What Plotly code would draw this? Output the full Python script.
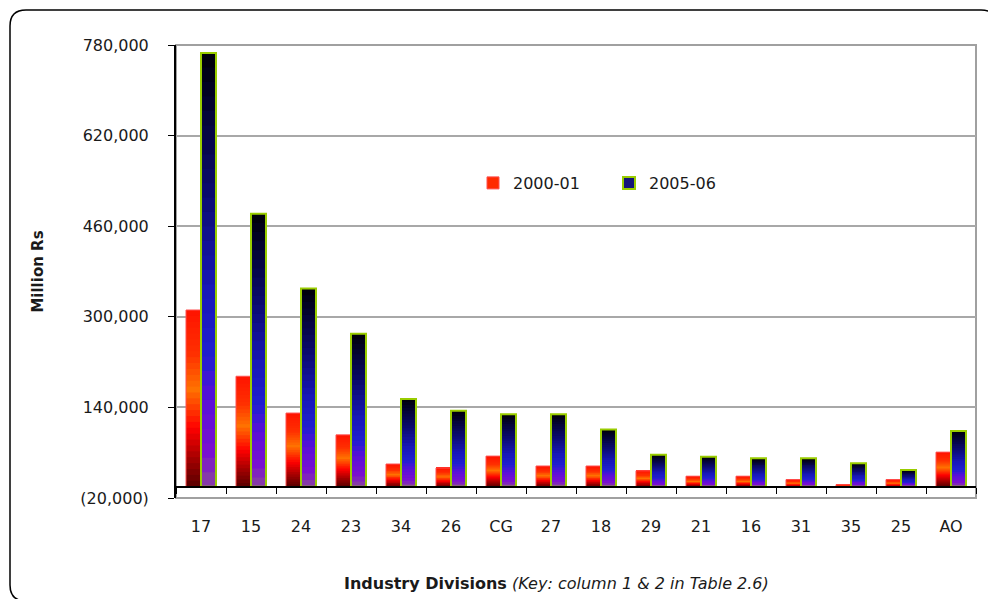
import plotly.graph_objects as go

# ---------------- data ----------------
categories = ["17", "15", "24", "23", "34", "26", "CG", "27", "18", "29", "21", "16", "31", "35", "25", "AO"]
values_2000_01 = [312000, 195000, 130000, 91500, 40000, 33000, 54000, 36500, 36500, 28000, 18500, 18500, 12500, 3500, 12500, 61000]
values_2005_06 = [766000, 482000, 350000, 270000, 155000, 134000, 128000, 128000, 101000, 56500, 53000, 50000, 50000, 41500, 29500, 98500]
series_names = ["2000-01", "2005-06"]
y_tickvals = [-20000, 140000, 300000, 460000, 620000, 780000]
y_ticktext = ["(20,000)", "140,000", "300,000", "460,000", "620,000", "780,000"]
x_title = "<b>Industry Divisions</b> <i>(Key: column 1 &amp; 2 in Table 2.6)</i>"
y_title = "<b>Million Rs</b>"

# ---------------- style ----------------
FONT = "DejaVu Sans"
W, H = 988, 599
ML, MR, MT, MB = 176, 12, 45, 101
PW, PH = W - ML - MR, H - MT - MB

red_stops = [(0.0, "#5a0000"), (0.15, "#a00000"), (0.33, "#ff0000"), (0.55, "#ff7200"),
             (0.75, "#ff3000"), (1.0, "#ff1400")]
blue_stops = [(0.0, "#8a45a0"), (0.08, "#7a10d0"), (0.2, "#5a10d8"), (0.3, "#2020d0"),
              (0.45, "#1818b8"), (0.65, "#0c0c78"), (0.85, "#04043a"), (1.0, "#000008")]


def hex2rgb(h):
    h = h.lstrip("#")
    return tuple(int(h[i:i + 2], 16) for i in (0, 2, 4))


def interp(stops, t):
    for (t0, c0), (t1, c1) in zip(stops[:-1], stops[1:]):
        if t0 <= t <= t1:
            a = (t - t0) / (t1 - t0) if t1 > t0 else 0
            r0, g0, b0 = hex2rgb(c0)
            r1, g1, b1 = hex2rgb(c1)
            return "rgb(%d,%d,%d)" % (r0 + (r1 - r0) * a, g0 + (g1 - g0) * a, b0 + (b1 - b0) * a)
    return stops[-1][1]


NSEG = 30
fig = go.Figure()


def add_series(name, vals, stops, group, outline_color, outline_w, legend_fill):
    frac = 1.0 / NSEG
    for k in range(NSEG):
        ext = 1.0 if k == NSEG - 1 else 1.8  # overlap into next segment to hide seams
        fig.add_trace(go.Bar(
            x=categories, y=[v * frac * ext for v in vals], base=[v * k * frac for v in vals],
            offsetgroup=group, showlegend=False, hoverinfo="skip",
            marker=dict(color=interp(stops, (k + 0.5) / NSEG), line=dict(width=0)),
        ))
    # outline
    fig.add_trace(go.Bar(
        x=categories, y=vals, offsetgroup=group, showlegend=False, name=name,
        marker=dict(color="rgba(0,0,0,0)", line=dict(color=outline_color, width=outline_w)),
    ))
    # legend entry
    fig.add_trace(go.Bar(
        x=[None], y=[None], offsetgroup=group, name=name, showlegend=True,
        marker=dict(color=legend_fill, line=dict(color=outline_color, width=outline_w)),
    ))


add_series(series_names[0], values_2000_01, red_stops, "a", "#ff5050", 1, "#ff2a00")
add_series(series_names[1], values_2005_06, blue_stops, "b", "#99cc00", 2, "#14147a")


def px_x(px):
    return (px - ML) / PW


def px_y(py):
    return (MT + PH - py) / PH


# outer rounded border
L, R, T, B = px_x(10), px_x(997), px_y(10), px_y(601)
rx, ry = 16 / PW, 16 / PH
path = (f"M {L + rx},{T} L {R - rx},{T} Q {R},{T} {R},{T - ry} L {R},{B + ry} "
        f"Q {R},{B} {R - rx},{B} L {L + rx},{B} Q {L},{B} {L},{B + ry} L {L},{T - ry} Q {L},{T} {L + rx},{T} Z")

ymin, ymax = -20000, 780000
zero_pos = (0 - ymin) / (ymax - ymin)

fig.update_layout(
    width=W, height=H,
    margin=dict(l=ML, r=MR, t=MT, b=MB),
    paper_bgcolor="white", plot_bgcolor="white",
    barmode="group", bargap=0.4, bargroupgap=0.0,
    font=dict(family=FONT, size=16, color="#1a1a1a"),
    showlegend=True,
    legend=dict(orientation="h", x=px_x(473), y=px_y(183), xanchor="left", yanchor="middle",
                font=dict(family=FONT, size=16, color="#1a1a1a"), bgcolor="rgba(0,0,0,0)",
                entrywidth=91, entrywidthmode="pixels", traceorder="normal"),
    shapes=[
        dict(type="rect", xref="paper", yref="paper", x0=0, x1=1, y0=0, y1=1,
             line=dict(color="#a0a0a0", width=2), layer="below"),
        dict(type="path", xref="paper", yref="paper", path=path,
             line=dict(color="black", width=1.5), layer="above"),
    ],
    annotations=[
        dict(text=x_title, xref="paper", yref="paper", x=px_x(556), y=px_y(583),
             xanchor="center", yanchor="middle", showarrow=False,
             font=dict(family=FONT, size=16, color="#1a1a1a")),
    ],
    xaxis=dict(
        type="category", anchor="free", position=zero_pos,
        showline=True, linecolor="black", linewidth=2,
        ticks="outside", tickson="boundaries", ticklen=6, tickcolor="black", tickwidth=1,
        showgrid=False, ticklabelstandoff=25,
        tickfont=dict(family=FONT, size=16, color="#1a1a1a"),
    ),
    yaxis=dict(
        range=[ymin, ymax], tickvals=y_tickvals, ticktext=y_ticktext,
        showline=True, linecolor="black", linewidth=2,
        ticks="outside", ticklen=6, tickcolor="black",
        showgrid=True, gridcolor="#a8a8a8", gridwidth=1.5, zeroline=False,
        ticklabelstandoff=16,
        tickfont=dict(family=FONT, size=16, color="#1a1a1a"),
        title=dict(text=y_title, font=dict(family=FONT, size=15, color="#1a1a1a"), standoff=33),
    ),
)

fig.write_html("out.html", config={"displayModeBar": False},
               post_script="document.body.style.margin='0';document.body.style.overflow='hidden';")
